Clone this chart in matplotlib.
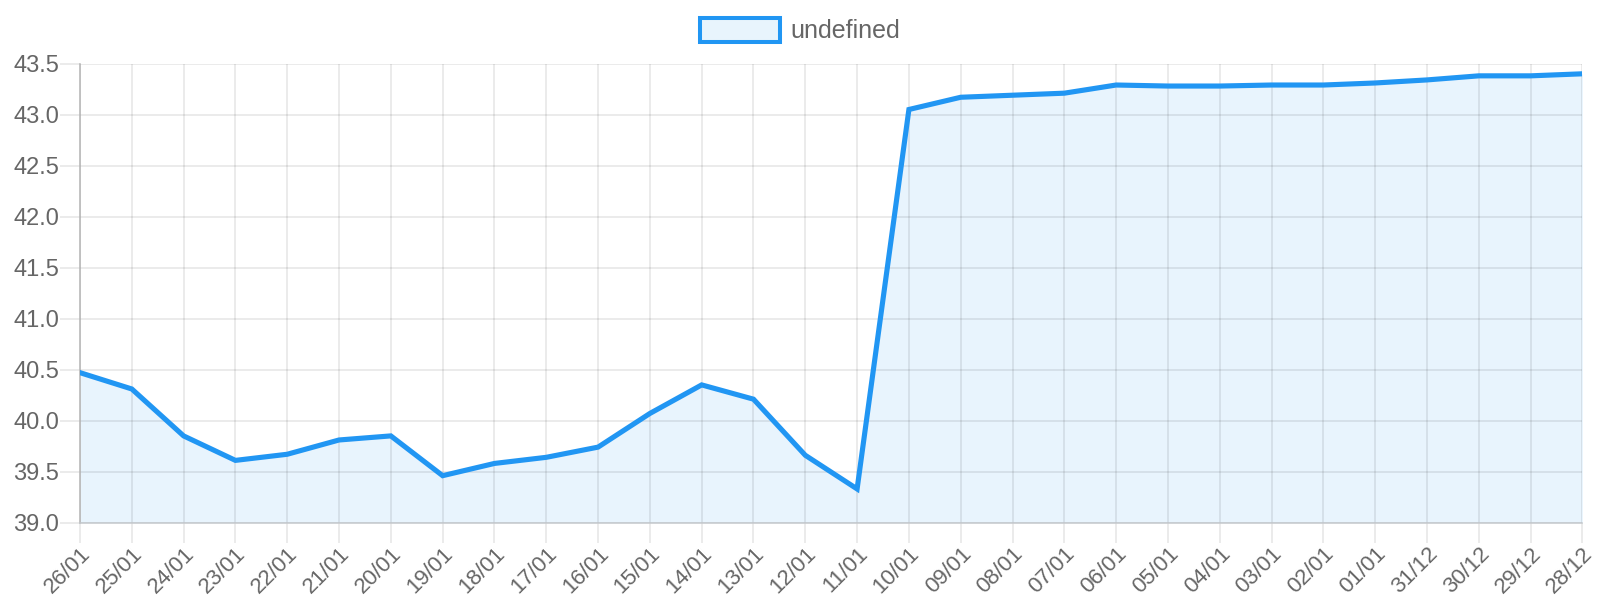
import matplotlib.pyplot as plt
from matplotlib.patches import Patch

AZUL = "#2196F3"
AZUL_FUNDO = (33 / 255, 150 / 255, 243 / 255, 0.1)
CINZA_TEXTO = "#666666"

plt.rcParams["font.family"] = ["Liberation Sans", "DejaVu Sans"]

# datas (mais recente primeiro, como no original)
datas = ["26/01", "25/01", "24/01", "23/01", "22/01", "21/01", "20/01", "19/01",
         "18/01", "17/01", "16/01", "15/01", "14/01", "13/01", "12/01", "11/01",
         "10/01", "09/01", "08/01", "07/01", "06/01", "05/01", "04/01", "03/01",
         "02/01", "01/01", "31/12", "30/12", "29/12", "28/12"]

valores = [40.47, 40.31, 39.85, 39.61, 39.67, 39.81, 39.85, 39.46,
           39.58, 39.64, 39.74, 40.07, 40.35, 40.21, 39.66, 39.33,
           43.05, 43.17, 43.19, 43.21, 43.29, 43.28, 43.28, 43.29,
           43.29, 43.31, 43.34, 43.38, 43.38, 43.40]

ticks_y = [39.0, 39.5, 40.0, 40.5, 41.0, 41.5, 42.0, 42.5, 43.0, 43.5]

fig = plt.figure(figsize=(16, 6), dpi=100)
ax = fig.add_axes([0.05, 0.129, 0.939, 0.765])

x = list(range(len(datas)))
ax.fill_between(x, valores, 39.0, color=AZUL_FUNDO, linewidth=0, zorder=1)
ax.plot(x, valores, color=AZUL, linewidth=3.7, solid_joinstyle="miter", zorder=3)

ax.set_xlim(0, len(datas) - 1)
ax.set_ylim(39.0, 43.5)
ax.set_xticks(x)
ax.set_xticklabels(datas, rotation=45, ha="right", rotation_mode="anchor")
ax.set_yticks(ticks_y)
ax.set_yticklabels([f"{v:.1f}" for v in ticks_y])

# grade por cima do preenchimento, mas abaixo da linha
ax.set_axisbelow("line")
ax.grid(True, color="black", alpha=0.1, linewidth=1.1)
ax.tick_params(axis="both", colors="#e6e6e6", labelcolor=CINZA_TEXTO,
               length=14.5, width=1.1)
ax.tick_params(axis="x", labelsize=16, pad=0.5)
ax.tick_params(axis="y", labelsize=17, pad=0.5)

for lado in ["top", "right"]:
    ax.spines[lado].set_visible(False)
ax.spines["left"].set_color("#b3b3b3")
ax.spines["bottom"].set_color("#c4c8cc")
ax.spines["left"].set_linewidth(1.1)
ax.spines["bottom"].set_linewidth(1.1)

handle = Patch(facecolor=AZUL_FUNDO, edgecolor=AZUL, linewidth=2.9)
fig.legend([handle], ["undefined"], loc="center", bbox_to_anchor=(0.5, 0.949),
           frameon=False, fontsize=18, labelcolor=CINZA_TEXTO,
           handlelength=3.2, handleheight=1.1, handletextpad=0.42, borderpad=0)

fig.savefig("out.png", dpi=100)
